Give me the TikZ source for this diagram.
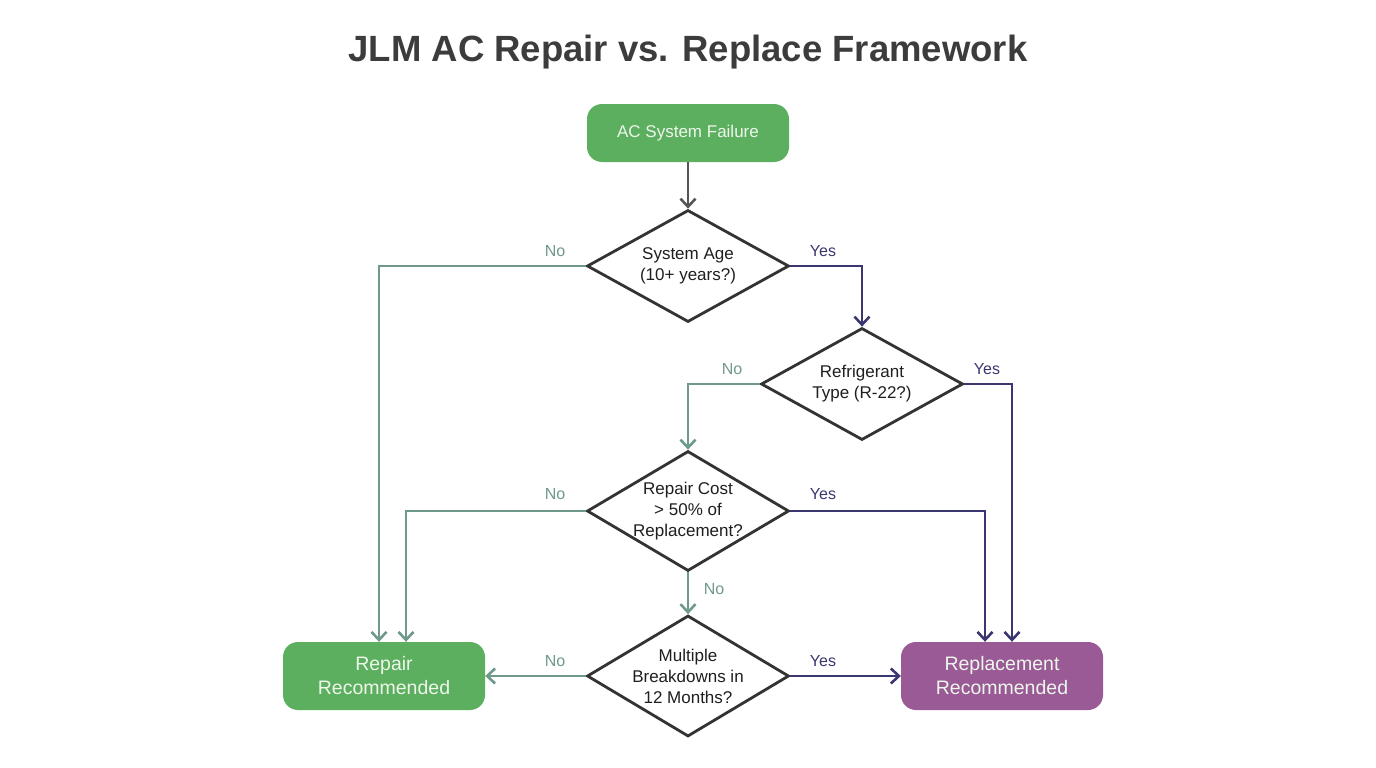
\documentclass[tikz,border=0pt]{standalone}
\usepackage{fontspec}
\setmainfont{Liberation Sans}
\usetikzlibrary{shapes.geometric,arrows.meta}
\definecolor{boxgreen}{HTML}{5CAF5F}
\definecolor{boxpurple}{HTML}{9A5A95}
\definecolor{boxtext}{HTML}{EEF6EC}
\definecolor{nocol}{HTML}{6F9A8A}
\definecolor{yescol}{HTML}{3B3771}
\definecolor{flowgray}{HTML}{555555}
\definecolor{outline}{HTML}{333333}
\definecolor{titlecol}{HTML}{3C3C3C}
\tikzset{
  termbox/.style={draw=none, rounded corners=15pt, minimum width=202pt, text=boxtext, font=\fontsize{17}{21}\selectfont, align=center},
  greenbox/.style={termbox, fill=boxgreen},
  purplebox/.style={termbox, fill=boxpurple},
  bigtext/.style={font=\fontsize{19.5}{24}\selectfont},
  dia/.style={diamond, draw=outline, line width=2.8pt, fill=white, minimum width=202pt, minimum height=112pt, inner sep=0pt},
  dtext/.style={font=\fontsize{17}{21}\selectfont, align=center, text=black!88},
  tip/.style={-{Straight Barb[length=8pt,width=15pt,line width=2.6pt]}},
  noline/.style={draw=nocol, line width=2.8pt, tip},
  yesline/.style={draw=yescol, line width=2.8pt, tip},
  grayline/.style={draw=flowgray, line width=2.8pt, tip},
  nolab/.style={text=nocol, font=\fontsize{16}{19}\selectfont},
  yeslab/.style={text=yescol, font=\fontsize{16}{19}\selectfont},
}
\begin{document}
\begin{tikzpicture}[x=1pt,y=-1pt]
\useasboundingbox[fill=white] (0,0) rectangle (1376,768);
\node[text=titlecol, font=\fontsize{36.5}{44}\bfseries\selectfont] (title) at (688,52) {JLM AC Repair vs. Replace Framework};

\node[greenbox, minimum height=58pt] (start) at (688,133) {AC System Failure};
\node[dia, label={[dtext]center:System Age\\(10+ years?)}] (d1) at (688,266) {};
\node[dia, label={[dtext]center:Refrigerant\\Type (R-22?)}] (d2) at (862,384) {};
\node[dia, minimum height=120pt, label={[dtext]center:Repair Cost\\> 50\% of\\Replacement?}] (d3) at (688,511) {};
\node[dia, minimum height=121pt, label={[dtext]center:Multiple\\Breakdowns in\\12 Months?}] (d4) at (688,676) {};
\node[greenbox, bigtext, minimum height=68pt] (repair) at (384,676) {Repair\\Recommended};
\node[purplebox, bigtext, minimum height=68pt] (replace) at (1002,676) {Replacement\\Recommended};

\coordinate (rA) at ([xshift=-5pt]repair.north);
\coordinate (rB) at ([xshift=22pt]repair.north);
\coordinate (pA) at ([xshift=-17pt]replace.north);
\coordinate (pB) at ([xshift=10pt]replace.north);

\draw[grayline] (start.south) -- (d1.north);
\draw[noline] (d1.west) -| (rA);
\draw[yesline] (d1.east) -| (d2.north);
\draw[noline] (d2.west) -| (d3.north);
\draw[yesline] (d2.east) -| (pB);
\draw[noline] (d3.west) -| (rB);
\draw[yesline] (d3.east) -| (pA);
\draw[noline] (d3.south) -- (d4.north);
\draw[noline] (d4.west) -- (repair.east);
\draw[yesline] (d4.east) -- (replace.west);

\node[nolab] (n1) at (555,251) {No};
\node[yeslab] (y1) at (823,251) {Yes};
\node[nolab] (n2) at (732,369) {No};
\node[yeslab] (y2) at (987,369) {Yes};
\node[nolab] (n3) at (555,494) {No};
\node[yeslab] (y3) at (823,494) {Yes};
\node[nolab] (n4) at (714,589) {No};
\node[nolab] (n5) at (555,661) {No};
\node[yeslab] (y5) at (823,661) {Yes};
\end{tikzpicture}
\end{document}
